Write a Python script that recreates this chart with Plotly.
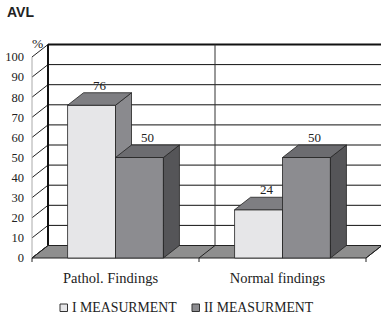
import plotly.graph_objects as go

# ---------------- data ----------------
categories = ["Pathol. Findings", "Normal findings"]
series_names = ["I MEASURMENT", "II MEASURMENT"]
measurement_1 = [76, 24]
measurement_2 = [50, 50]
y_ticks = [0, 10, 20, 30, 40, 50, 60, 70, 80, 90, 100]

# ---------------- geometry / style ----------------
W_FIG, H_FIG = 381, 319
L, R, T, B = 30, 0, 41, 56
PLOT_W = W_FIG - L - R
PLOT_H = H_FIG - T - B
PX_X = 167.0            # pixels per category
PX_Y = 2.01             # pixels per percent
X0 = -0.5 - 2 / PX_X
Y0 = -5 / PX_Y
x_range = [X0, X0 + PLOT_W / PX_X]
y_range = [Y0, Y0 + PLOT_H / PX_Y]
DX = 16 / PX_X           # depth offset (x units)
DY = 12.5 / PX_Y         # depth offset (y units)
BW = 0.287               # bar width

SERIF = "Liberation Serif, Times New Roman, serif"
EDGE = "#222222"
C1 = dict(front="#e6e6e8", top="#7e7e82", side="#8a8a8e")
C2 = dict(front="#8c8c90", top="#6c6c70", side="#555558")
FLOOR = "#8e8e8e"

xs = list(range(len(categories)))


def faces(values, off):
    tx, ty, sx, sy = [], [], [], []
    for x, v in zip(xs, values):
        x0 = x + off
        x1 = x0 + BW
        tx += [x0, x1, x1 + DX, x0 + DX, x0, None]
        ty += [v, v, v + DY, v + DY, v, None]
        sx += [x1, x1 + DX, x1 + DX, x1, x1, None]
        sy += [0, DY, v + DY, v, 0, None]
    return tx, ty, sx, sy


def poly(px, py, color, xa, ya):
    return go.Scatter(x=px, y=py, mode="lines", fill="toself", fillcolor=color,
                      line=dict(color=EDGE, width=0.8), hoverinfo="skip",
                      showlegend=False, xaxis=xa, yaxis=ya)


fig = go.Figure()

# series I (base axes)
fig.add_trace(go.Bar(x=xs, y=measurement_1, name=series_names[0], offset=-BW, width=BW,
                     marker=dict(color=C1["front"], line=dict(color=EDGE, width=0.8)),
                     showlegend=False, xaxis="x", yaxis="y"))
tx, ty, sx, sy = faces(measurement_1, -BW)
fig.add_trace(poly(sx, sy, C1["side"], "x", "y"))
fig.add_trace(poly(tx, ty, C1["top"], "x", "y"))

# series II (overlay axes so it is painted in front of series I)
fig.add_trace(go.Bar(x=xs, y=measurement_2, name=series_names[1], offset=0, width=BW,
                     marker=dict(color=C2["front"], line=dict(color=EDGE, width=0.8)),
                     showlegend=False, xaxis="x2", yaxis="y2"))
tx, ty, sx, sy = faces(measurement_2, 0)
fig.add_trace(poly(sx, sy, C2["side"], "x2", "y2"))
fig.add_trace(poly(tx, ty, C2["top"], "x2", "y2"))

# value labels
lx, ly, lt = [], [], []
for off, vals in ((-BW, measurement_1), (0, measurement_2)):
    for x, v in zip(xs, vals):
        lx.append(x + off + BW / 2 + DX / 2)
        ly.append(v + DY + 3.2)
        lt.append(str(v))
fig.add_trace(go.Scatter(x=lx, y=ly, text=lt, mode="text", textposition="middle center",
                         textfont=dict(family=SERIF, size=13, color="#222"),
                         hoverinfo="skip", showlegend=False, xaxis="x2", yaxis="y2"))

# ---------------- walls / floor (shapes) ----------------
shapes = []
xl_front = -0.5
xl_back = -0.5 + DX
x_far = x_range[1] + 1
for v in y_ticks[1:]:
    shapes.append(dict(type="line", xref="x", yref="y", layer="below",
                       x0=xl_back, x1=x_far, y0=v + DY, y1=v + DY,
                       line=dict(color="#111", width=2 if v == y_ticks[-1] else 1)))
for v in y_ticks:
    shapes.append(dict(type="line", xref="x", yref="y", layer="below",
                       x0=xl_front, x1=xl_back, y0=v, y1=v + DY,
                       line=dict(color="#222", width=1)))
shapes.append(dict(type="line", xref="x", yref="y", layer="below",
                   x0=xl_front, x1=xl_front, y0=0, y1=y_ticks[-1],
                   line=dict(color="#aaaaaa", width=1)))
shapes.append(dict(type="line", xref="x", yref="y", layer="below",
                   x0=xl_back, x1=xl_back, y0=DY, y1=y_ticks[-1] + DY,
                   line=dict(color="#111", width=2)))
for i in range(1, len(categories) + 1):
    xb = i - 0.5
    shapes.append(dict(type="line", xref="x", yref="y", layer="below",
                       x0=xb + DX, x1=xb + DX, y0=DY, y1=y_ticks[-1] + DY,
                       line=dict(color="#333", width=1)))
xr_front = len(categories) - 0.5
floor_path = (f"M {xl_front},0 L {xr_front},0 L {xr_front + DX},{DY} "
              f"L {xl_back},{DY} Z")
shapes.append(dict(type="path", xref="x", yref="y", layer="below", path=floor_path,
                   fillcolor=FLOOR, line=dict(color=EDGE, width=1)))
for i in range(0, len(categories) + 1):
    xb = i - 0.5
    shapes.append(dict(type="line", xref="x", yref="y", layer="below",
                       x0=xb, x1=xb + DX, y0=0, y1=DY, line=dict(color=EDGE, width=1)))
    shapes.append(dict(type="line", xref="x", yref="y", layer="below",
                       x0=xb, x1=xb, y0=0, y1=-4 / PX_Y, line=dict(color=EDGE, width=1)))


# ---------------- custom legend ----------------
def px2paper_x(p):
    return (p - L) / PLOT_W


def px2paper_y(p):
    return (H_FIG - B - p) / PLOT_H


annotations = []
legend_items = [(series_names[0], C1["front"], 60), (series_names[1], C2["front"], 192)]
for name, col, px in legend_items:
    shapes.append(dict(type="rect", xref="paper", yref="paper",
                       x0=px2paper_x(px), x1=px2paper_x(px + 7.5),
                       y0=px2paper_y(311.5), y1=px2paper_y(304),
                       fillcolor=col, line=dict(color="#333", width=1)))
    annotations.append(dict(xref="paper", yref="paper", x=px2paper_x(px + 9.5),
                            y=px2paper_y(307.5), xanchor="left", yanchor="middle",
                            text=name, showarrow=False,
                            font=dict(family=SERIF, size=13.8, color="#222")))

annotations.append(dict(xref="paper", yref="paper", x=px2paper_x(37.5), y=px2paper_y(43),
                        xanchor="center", yanchor="middle", text="%", showarrow=False,
                        font=dict(family=SERIF, size=13.5, color="#222")))

fig.update_layout(
    width=W_FIG, height=H_FIG,
    margin=dict(l=L, r=R, t=T, b=B, pad=0),
    paper_bgcolor="white", plot_bgcolor="white",
    showlegend=False,
    title=dict(text="<b>AVL</b>", xref="container", yref="container",
               x=7 / W_FIG, xanchor="left", y=1 - 7 / H_FIG, yanchor="top",
               font=dict(family="Liberation Sans, Arial, sans-serif", size=14, color="#222")),
    xaxis=dict(range=x_range, tickvals=xs, ticktext=categories, showgrid=False,
               zeroline=False, showline=False, ticks="", ticklabelshift=-5,
               ticklabelstandoff=4, automargin=False,
               tickfont=dict(family=SERIF, size=14.5, color="#222"), fixedrange=True),
    yaxis=dict(range=y_range, tickvals=y_ticks, showgrid=False, zeroline=False,
               showline=False, ticks="", ticklabelstandoff=5, automargin=False,
               tickfont=dict(family=SERIF, size=12.5, color="#222"), fixedrange=True),
    xaxis2=dict(range=x_range, overlaying="x", visible=False, fixedrange=True),
    yaxis2=dict(range=y_range, overlaying="y", visible=False, fixedrange=True),
    shapes=shapes, annotations=annotations,
)

fig.write_html("out.html", config={"displayModeBar": False},
               post_script="document.body.style.margin='0';document.body.style.padding='0';")
